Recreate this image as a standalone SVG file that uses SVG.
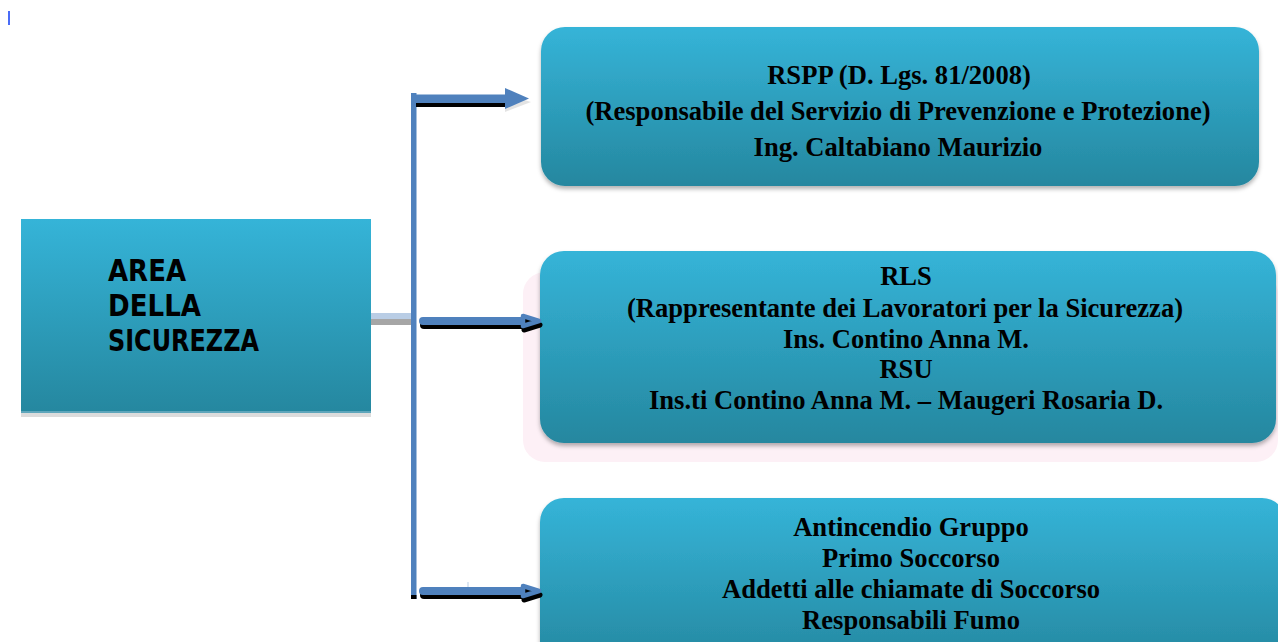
<svg xmlns="http://www.w3.org/2000/svg" width="1278" height="642" viewBox="0 0 1278 642">
  <defs>
    <linearGradient id="teal" x1="0" y1="0" x2="0" y2="1">
      <stop offset="0" stop-color="#35b4d8"/>
      <stop offset="1" stop-color="#25879f"/>
    </linearGradient>
    <filter id="sh" x="-5%" y="-5%" width="110%" height="120%">
      <feDropShadow dx="0" dy="3" stdDeviation="2" flood-color="#000" flood-opacity="0.3"/>
    </filter>
    <style>
      .box { fill: url(#teal); }
      .t { font-family: "Liberation Serif", "Times New Roman", serif; font-weight: bold; font-size: 28px; fill: #000; text-anchor: middle; }
      .s { font-family: "DejaVu Sans", "Liberation Sans", sans-serif; font-weight: bold; font-size: 30px; fill: #000; }
      .conn { stroke: #4f81bd; fill: none; }
      .shd { stroke: #000; fill: none; }
    </style>
  </defs>
  <rect x="0" y="0" width="1278" height="642" fill="#ffffff"/>
  <rect x="8" y="11" width="2" height="14" fill="#4a6cf7"/>

  <g id="area">
    <rect x="21" y="413" width="350" height="4" fill="#dcdcdc"/>
    <rect class="box" x="21" y="219" width="350" height="194"/>
    <rect x="21" y="411" width="350" height="2" fill="#5fa6bb"/>
    <text class="s" x="108" y="281" textLength="78" lengthAdjust="spacingAndGlyphs">AREA</text>
    <text class="s" x="108" y="316" textLength="93" lengthAdjust="spacingAndGlyphs">DELLA</text>
    <text class="s" x="108" y="351" textLength="151" lengthAdjust="spacingAndGlyphs">SICUREZZA</text>
  </g>

  <g id="rspp">
    <rect class="box" x="541" y="27" width="718" height="159" rx="24" filter="url(#sh)"/>
    <text class="t" transform="translate(899,84) scale(0.95,1)">RSPP (D. Lgs. 81/2008)</text>
    <text class="t" transform="translate(898,120) scale(0.95,1)">(Responsabile del Servizio di Prevenzione e Protezione)</text>
    <text class="t" transform="translate(898,156) scale(0.95,1)">Ing. Caltabiano Maurizio</text>
  </g>

  <g id="rls">
    <rect x="523" y="272" width="755" height="190" rx="22" fill="#fdf0f6"/>
    <rect class="box" x="540" y="251" width="736" height="192" rx="24" filter="url(#sh)"/>
    <text class="t" transform="translate(906,285) scale(0.95,1)">RLS</text>
    <text class="t" transform="translate(905,317) scale(0.95,1)">(Rappresentante dei Lavoratori per la Sicurezza)</text>
    <text class="t" transform="translate(906,348) scale(0.95,1)">Ins. Contino Anna M.</text>
    <text class="t" transform="translate(906,378) scale(0.95,1)">RSU</text>
    <text class="t" transform="translate(906,409) scale(0.95,1)">Ins.ti Contino Anna M. – Maugeri Rosaria D.</text>
  </g>

  <g id="gruppi">
    <rect class="box" x="540" y="498" width="746" height="170" rx="24" filter="url(#sh)"/>
    <text class="t" transform="translate(911,536) scale(0.95,1)">Antincendio Gruppo</text>
    <text class="t" transform="translate(911,567) scale(0.95,1)">Primo Soccorso</text>
    <text class="t" transform="translate(911,598) scale(0.95,1)">Addetti alle chiamate di Soccorso</text>
    <text class="t" transform="translate(911,629) scale(0.95,1)">Responsabili Fumo</text>
  </g>

  <g id="connectors">
    <!-- stub from left box -->
    <rect x="371" y="313" width="42" height="6" fill="#b9cde5"/>
    <rect x="371" y="319" width="42" height="6" fill="#a6a6a6"/>
    <!-- vertical trunk -->
    <rect x="411" y="93" width="5.5" height="506" fill="#4f81bd"/>
    <rect x="411" y="595" width="5.5" height="4" fill="#000"/>
    <!-- top arrow -->
    <rect x="416" y="99" width="92" height="8" fill="#000"/>
    <polygon points="505,94 531,102 505,112" fill="#d0d0d0" opacity="0.6"/>
    <rect x="416" y="94.5" width="92" height="8.5" fill="#4f81bd"/>
    <polygon points="505,88 529,98.5 505,109" fill="#4f81bd"/>
    <!-- middle arrow -->
    <line class="shd" x1="424" y1="325" x2="524" y2="325" stroke-width="8" stroke-linecap="round"/>
    <polygon points="524,320 540,325 524,330" fill="#000" stroke="#000" stroke-width="5" stroke-linejoin="round"/>
    <line class="conn" x1="423" y1="321" x2="522" y2="321" stroke-width="8" stroke-linecap="round"/>
    <polygon points="523,316 539,321 523,326" fill="#000" stroke="#4f81bd" stroke-width="4.5" stroke-linejoin="round"/>
    <!-- bottom arrow -->
    <line x1="468" y1="582" x2="468" y2="588" stroke="#b9cde5" stroke-width="1"/>
    <line class="shd" x1="424" y1="595" x2="524" y2="595" stroke-width="8" stroke-linecap="round"/>
    <polygon points="524,590 540,595 524,600" fill="#000" stroke="#000" stroke-width="5" stroke-linejoin="round"/>
    <line class="conn" x1="423" y1="591" x2="522" y2="591" stroke-width="8" stroke-linecap="round"/>
    <polygon points="523,586 539,591 523,596" fill="#000" stroke="#4f81bd" stroke-width="4.5" stroke-linejoin="round"/>
  </g>
</svg>
